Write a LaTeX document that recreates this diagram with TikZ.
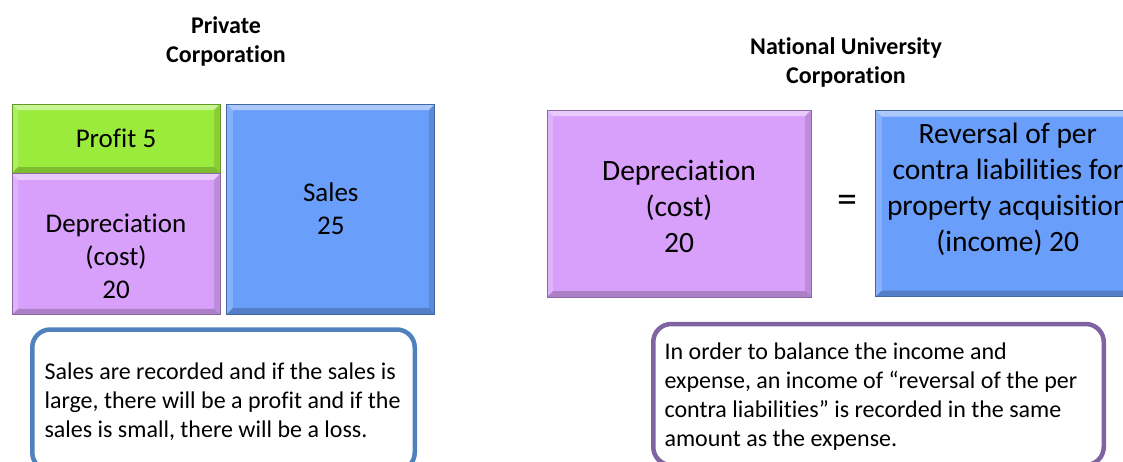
\documentclass[tikz,border=0pt]{standalone}
\usepackage{fontspec}
\setmainfont{Carlito}[Ligatures=NoCommon]
\usetikzlibrary{positioning,calc}

\definecolor{profitgreen}{RGB}{155,235,60}
\definecolor{costpurple}{RGB}{216,160,250}
\definecolor{salesblue}{RGB}{105,158,250}
\definecolor{noteblue}{RGB}{79,129,189}
\definecolor{notepurple}{RGB}{128,100,162}

\tikzset{
 bevel/.style={path picture={
  \fill[white,opacity=.45] (path picture bounding box.north west) -- (path picture bounding box.north east)
   -- ([shift={(-6pt,-6pt)}]path picture bounding box.north east) -- ([shift={(6pt,-6pt)}]path picture bounding box.north west) -- cycle;
  \fill[white,opacity=.2] (path picture bounding box.north west) -- ([shift={(6pt,-6pt)}]path picture bounding box.north west)
   -- ([shift={(6pt,6pt)}]path picture bounding box.south west) -- (path picture bounding box.south west) -- cycle;
  \fill[black,opacity=.2] (path picture bounding box.south west) -- (path picture bounding box.south east)
   -- ([shift={(-6pt,6pt)}]path picture bounding box.south east) -- ([shift={(6pt,6pt)}]path picture bounding box.south west) -- cycle;
  \fill[black,opacity=.12] (path picture bounding box.north east) -- ([shift={(-6pt,-6pt)}]path picture bounding box.north east)
   -- ([shift={(-6pt,6pt)}]path picture bounding box.south east) -- (path picture bounding box.south east) -- cycle;
 }},
 block/.style={draw=#1!65!black, line width=.8pt, fill=#1, bevel, align=center},
 note/.style={draw=#1, line width=4.5pt, rounded corners=18pt, fill=white},
 notetext/.style={anchor=west, align=left, font=\fontsize{24}{29}\selectfont},
 title/.style={font=\bfseries\fontsize{24}{29}\selectfont, align=center},
 boxfont/.style={font=\fontsize{27}{33}\selectfont, align=center},
 bigfont/.style={font=\fontsize{29.5}{36}\selectfont, align=center}
}

\begin{document}
\begin{tikzpicture}[x=1pt,y=-1pt]
 \useasboundingbox (0,0) rectangle (1123,461);

 % private corporation
 \node[title] (privT) at (226,41) {Private\\Corporation};
 \node[block=profitgreen, boxfont, minimum width=208, minimum height=69] (profit) at (116,138.5) {Profit 5};
 \node[block=costpurple, minimum width=208, minimum height=141, below=0pt of profit] (deprL) {};
 \node[boxfont] (deprLtxt) at ([yshift=-12]deprL.center) {Depreciation\\(cost)\\20};
 \node[block=salesblue, boxfont, minimum width=208, minimum height=210, anchor=north west] (sales)
  at ([xshift=6]profit.north east) {Sales\\25};
 \node[note=noteblue, minimum width=382.5, minimum height=141] (noteL) at (223.5,400) {};
 \node[notetext] (noteLtxt) at ([xshift=11,yshift=-2]noteL.west)
  {Sales are recorded and if the sales is\\large, there will be a profit and if the\\sales is small, there will be a loss.};

 % national university corporation
 \node[title] (natT) at (846,62) {National University\\Corporation};
 \node[block=costpurple, minimum width=264, minimum height=187] (deprR) at (679,203.5) {};
 \node[bigfont] (deprRtxt) at ([yshift=-2.5]deprR.center) {Depreciation\\(cost)\\20};
 \node[block=salesblue, minimum width=264, minimum height=186, right=64pt of deprR] (revR) {};
 \node[bigfont] (revRtxt) at ([yshift=14.5]revR.center) {Reversal of per\\contra liabilities for\\property acquisition\\(income) 20};
 \node[font=\fontsize{40}{48}\selectfont] (eq) at ($(deprR.east)!.5!(revR.west)+(4,0)$) {=};
 \node[note=notepurple, minimum width=450.5, minimum height=141] (noteR) at (878.5,394.5) {};
 \node[notetext] (noteRtxt) at ([xshift=10,yshift=-2]noteR.west)
  {In order to balance the income and\\expense, an income of “reversal of the per\\contra liabilities” is recorded in the same\\amount as the expense.};
\end{tikzpicture}
\end{document}
